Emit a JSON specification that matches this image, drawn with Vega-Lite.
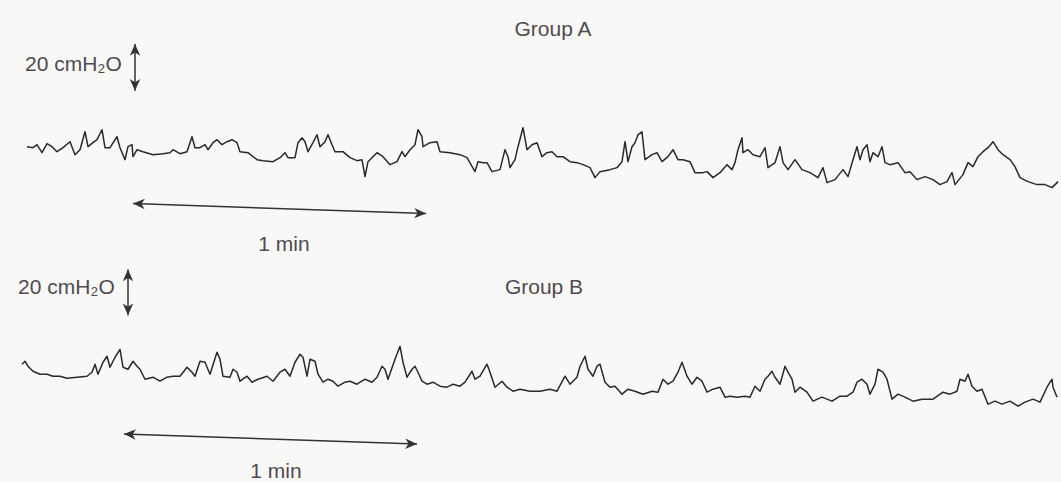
{
  "$schema": "https://vega.github.io/schema/vega-lite/v6.json",
  "width": 1061,
  "height": 482,
  "autosize": {"type": "fit", "contains": "padding"},
  "padding": 0,
  "background": "#f8f8f7",
  "config": {"view": {"stroke": null}},
  "datasets": {
    "traces": [
      {"g":"A","t":27,"p":147},{"g":"A","t":33,"p":148},{"g":"A","t":37,"p":145},{"g":"A","t":42,"p":153},{"g":"A","t":47,"p":144},{"g":"A","t":52,"p":147},{"g":"A","t":57,"p":152},{"g":"A","t":63,"p":148},{"g":"A","t":70,"p":142},{"g":"A","t":75,"p":155},{"g":"A","t":80,"p":150},{"g":"A","t":85,"p":132},{"g":"A","t":88,"p":147},{"g":"A","t":93,"p":143},{"g":"A","t":97,"p":140},{"g":"A","t":102,"p":130},{"g":"A","t":105,"p":148},{"g":"A","t":110,"p":148},{"g":"A","t":117,"p":137},{"g":"A","t":120,"p":148},{"g":"A","t":125,"p":160},{"g":"A","t":128,"p":147},{"g":"A","t":132,"p":145},{"g":"A","t":133,"p":157},{"g":"A","t":137,"p":150},{"g":"A","t":143,"p":152},{"g":"A","t":153,"p":155},{"g":"A","t":163,"p":154},{"g":"A","t":170,"p":153},{"g":"A","t":173,"p":150},{"g":"A","t":180,"p":154},{"g":"A","t":187,"p":152},{"g":"A","t":192,"p":137},{"g":"A","t":195,"p":148},{"g":"A","t":200,"p":148},{"g":"A","t":205,"p":145},{"g":"A","t":208,"p":150},{"g":"A","t":213,"p":143},{"g":"A","t":217,"p":140},{"g":"A","t":222,"p":145},{"g":"A","t":227,"p":142},{"g":"A","t":232,"p":140},{"g":"A","t":237,"p":143},{"g":"A","t":240,"p":152},{"g":"A","t":248,"p":153},{"g":"A","t":257,"p":160},{"g":"A","t":263,"p":161},{"g":"A","t":273,"p":162},{"g":"A","t":280,"p":158},{"g":"A","t":285,"p":153},{"g":"A","t":288,"p":158},{"g":"A","t":295,"p":158},{"g":"A","t":298,"p":143},{"g":"A","t":302,"p":138},{"g":"A","t":305,"p":142},{"g":"A","t":308,"p":152},{"g":"A","t":313,"p":143},{"g":"A","t":317,"p":135},{"g":"A","t":320,"p":147},{"g":"A","t":325,"p":142},{"g":"A","t":328,"p":135},{"g":"A","t":332,"p":145},{"g":"A","t":335,"p":152},{"g":"A","t":343,"p":152},{"g":"A","t":350,"p":158},{"g":"A","t":357,"p":161},{"g":"A","t":362,"p":160},{"g":"A","t":365,"p":177},{"g":"A","t":368,"p":162},{"g":"A","t":373,"p":157},{"g":"A","t":377,"p":153},{"g":"A","t":383,"p":157},{"g":"A","t":390,"p":165},{"g":"A","t":397,"p":162},{"g":"A","t":402,"p":152},{"g":"A","t":405,"p":157},{"g":"A","t":410,"p":150},{"g":"A","t":415,"p":145},{"g":"A","t":418,"p":130},{"g":"A","t":422,"p":137},{"g":"A","t":423,"p":147},{"g":"A","t":430,"p":143},{"g":"A","t":437,"p":142},{"g":"A","t":440,"p":152},{"g":"A","t":450,"p":153},{"g":"A","t":460,"p":155},{"g":"A","t":467,"p":158},{"g":"A","t":475,"p":172},{"g":"A","t":478,"p":162},{"g":"A","t":483,"p":163},{"g":"A","t":487,"p":163},{"g":"A","t":492,"p":172},{"g":"A","t":500,"p":170},{"g":"A","t":505,"p":150},{"g":"A","t":508,"p":157},{"g":"A","t":510,"p":168},{"g":"A","t":515,"p":160},{"g":"A","t":518,"p":147},{"g":"A","t":523,"p":128},{"g":"A","t":527,"p":150},{"g":"A","t":532,"p":145},{"g":"A","t":537,"p":143},{"g":"A","t":542,"p":157},{"g":"A","t":547,"p":153},{"g":"A","t":552,"p":152},{"g":"A","t":557,"p":157},{"g":"A","t":563,"p":157},{"g":"A","t":570,"p":162},{"g":"A","t":577,"p":163},{"g":"A","t":583,"p":165},{"g":"A","t":590,"p":168},{"g":"A","t":595,"p":178},{"g":"A","t":600,"p":172},{"g":"A","t":610,"p":170},{"g":"A","t":617,"p":168},{"g":"A","t":622,"p":162},{"g":"A","t":625,"p":142},{"g":"A","t":628,"p":162},{"g":"A","t":632,"p":147},{"g":"A","t":635,"p":143},{"g":"A","t":638,"p":135},{"g":"A","t":642,"p":132},{"g":"A","t":645,"p":160},{"g":"A","t":652,"p":155},{"g":"A","t":657,"p":153},{"g":"A","t":662,"p":162},{"g":"A","t":668,"p":157},{"g":"A","t":673,"p":150},{"g":"A","t":678,"p":160},{"g":"A","t":683,"p":160},{"g":"A","t":690,"p":162},{"g":"A","t":695,"p":173},{"g":"A","t":703,"p":173},{"g":"A","t":707,"p":172},{"g":"A","t":713,"p":178},{"g":"A","t":720,"p":173},{"g":"A","t":727,"p":165},{"g":"A","t":732,"p":170},{"g":"A","t":735,"p":163},{"g":"A","t":738,"p":150},{"g":"A","t":742,"p":138},{"g":"A","t":743,"p":153},{"g":"A","t":748,"p":150},{"g":"A","t":753,"p":155},{"g":"A","t":760,"p":157},{"g":"A","t":765,"p":148},{"g":"A","t":768,"p":168},{"g":"A","t":775,"p":163},{"g":"A","t":780,"p":147},{"g":"A","t":783,"p":163},{"g":"A","t":788,"p":170},{"g":"A","t":795,"p":160},{"g":"A","t":802,"p":170},{"g":"A","t":810,"p":173},{"g":"A","t":818,"p":178},{"g":"A","t":823,"p":168},{"g":"A","t":827,"p":183},{"g":"A","t":835,"p":180},{"g":"A","t":843,"p":170},{"g":"A","t":848,"p":177},{"g":"A","t":853,"p":160},{"g":"A","t":857,"p":147},{"g":"A","t":860,"p":160},{"g":"A","t":863,"p":150},{"g":"A","t":867,"p":145},{"g":"A","t":870,"p":162},{"g":"A","t":873,"p":153},{"g":"A","t":878,"p":157},{"g":"A","t":882,"p":147},{"g":"A","t":885,"p":163},{"g":"A","t":890,"p":165},{"g":"A","t":898,"p":163},{"g":"A","t":905,"p":173},{"g":"A","t":910,"p":172},{"g":"A","t":917,"p":180},{"g":"A","t":925,"p":177},{"g":"A","t":933,"p":180},{"g":"A","t":940,"p":185},{"g":"A","t":947,"p":182},{"g":"A","t":952,"p":173},{"g":"A","t":955,"p":185},{"g":"A","t":963,"p":175},{"g":"A","t":968,"p":163},{"g":"A","t":973,"p":167},{"g":"A","t":978,"p":157},{"g":"A","t":983,"p":152},{"g":"A","t":988,"p":148},{"g":"A","t":993,"p":142},{"g":"A","t":998,"p":150},{"g":"A","t":1003,"p":155},{"g":"A","t":1010,"p":160},{"g":"A","t":1015,"p":167},{"g":"A","t":1020,"p":178},{"g":"A","t":1028,"p":182},{"g":"A","t":1037,"p":185},{"g":"A","t":1045,"p":185},{"g":"A","t":1052,"p":188},{"g":"A","t":1058,"p":182},
      {"g":"B","t":22,"p":365},{"g":"B","t":25,"p":362},{"g":"B","t":28,"p":367},{"g":"B","t":33,"p":372},{"g":"B","t":40,"p":375},{"g":"B","t":47,"p":375},{"g":"B","t":53,"p":377},{"g":"B","t":60,"p":377},{"g":"B","t":67,"p":379},{"g":"B","t":77,"p":378},{"g":"B","t":87,"p":377},{"g":"B","t":92,"p":373},{"g":"B","t":95,"p":365},{"g":"B","t":98,"p":375},{"g":"B","t":103,"p":363},{"g":"B","t":107,"p":357},{"g":"B","t":110,"p":368},{"g":"B","t":115,"p":358},{"g":"B","t":120,"p":350},{"g":"B","t":123,"p":368},{"g":"B","t":128,"p":370},{"g":"B","t":133,"p":362},{"g":"B","t":137,"p":367},{"g":"B","t":140,"p":370},{"g":"B","t":145,"p":380},{"g":"B","t":153,"p":378},{"g":"B","t":160,"p":382},{"g":"B","t":167,"p":378},{"g":"B","t":173,"p":377},{"g":"B","t":180,"p":377},{"g":"B","t":187,"p":368},{"g":"B","t":192,"p":373},{"g":"B","t":195,"p":377},{"g":"B","t":200,"p":362},{"g":"B","t":205,"p":363},{"g":"B","t":210,"p":375},{"g":"B","t":217,"p":353},{"g":"B","t":220,"p":360},{"g":"B","t":223,"p":377},{"g":"B","t":230,"p":378},{"g":"B","t":233,"p":370},{"g":"B","t":237,"p":373},{"g":"B","t":240,"p":382},{"g":"B","t":247,"p":377},{"g":"B","t":252,"p":383},{"g":"B","t":258,"p":380},{"g":"B","t":267,"p":377},{"g":"B","t":273,"p":382},{"g":"B","t":280,"p":373},{"g":"B","t":285,"p":370},{"g":"B","t":290,"p":377},{"g":"B","t":295,"p":363},{"g":"B","t":300,"p":355},{"g":"B","t":303,"p":358},{"g":"B","t":307,"p":377},{"g":"B","t":310,"p":360},{"g":"B","t":315,"p":362},{"g":"B","t":318,"p":375},{"g":"B","t":323,"p":383},{"g":"B","t":328,"p":380},{"g":"B","t":333,"p":382},{"g":"B","t":338,"p":387},{"g":"B","t":345,"p":383},{"g":"B","t":350,"p":382},{"g":"B","t":357,"p":385},{"g":"B","t":365,"p":380},{"g":"B","t":372,"p":383},{"g":"B","t":377,"p":378},{"g":"B","t":382,"p":367},{"g":"B","t":385,"p":370},{"g":"B","t":388,"p":380},{"g":"B","t":395,"p":360},{"g":"B","t":400,"p":347},{"g":"B","t":403,"p":363},{"g":"B","t":407,"p":378},{"g":"B","t":412,"p":370},{"g":"B","t":415,"p":367},{"g":"B","t":418,"p":373},{"g":"B","t":422,"p":382},{"g":"B","t":427,"p":385},{"g":"B","t":433,"p":383},{"g":"B","t":440,"p":387},{"g":"B","t":447,"p":388},{"g":"B","t":453,"p":385},{"g":"B","t":460,"p":387},{"g":"B","t":465,"p":383},{"g":"B","t":472,"p":372},{"g":"B","t":475,"p":380},{"g":"B","t":480,"p":377},{"g":"B","t":487,"p":365},{"g":"B","t":490,"p":373},{"g":"B","t":495,"p":388},{"g":"B","t":502,"p":382},{"g":"B","t":507,"p":388},{"g":"B","t":513,"p":392},{"g":"B","t":520,"p":390},{"g":"B","t":530,"p":392},{"g":"B","t":540,"p":392},{"g":"B","t":550,"p":390},{"g":"B","t":557,"p":392},{"g":"B","t":565,"p":377},{"g":"B","t":570,"p":385},{"g":"B","t":577,"p":378},{"g":"B","t":580,"p":367},{"g":"B","t":585,"p":357},{"g":"B","t":588,"p":370},{"g":"B","t":593,"p":377},{"g":"B","t":597,"p":367},{"g":"B","t":600,"p":365},{"g":"B","t":605,"p":383},{"g":"B","t":610,"p":388},{"g":"B","t":615,"p":387},{"g":"B","t":622,"p":395},{"g":"B","t":628,"p":390},{"g":"B","t":635,"p":392},{"g":"B","t":643,"p":395},{"g":"B","t":652,"p":392},{"g":"B","t":658,"p":393},{"g":"B","t":663,"p":380},{"g":"B","t":668,"p":385},{"g":"B","t":673,"p":382},{"g":"B","t":678,"p":373},{"g":"B","t":682,"p":363},{"g":"B","t":687,"p":377},{"g":"B","t":692,"p":385},{"g":"B","t":697,"p":378},{"g":"B","t":702,"p":382},{"g":"B","t":707,"p":393},{"g":"B","t":713,"p":390},{"g":"B","t":720,"p":388},{"g":"B","t":725,"p":398},{"g":"B","t":730,"p":397},{"g":"B","t":737,"p":398},{"g":"B","t":745,"p":397},{"g":"B","t":750,"p":398},{"g":"B","t":755,"p":387},{"g":"B","t":760,"p":392},{"g":"B","t":765,"p":380},{"g":"B","t":768,"p":377},{"g":"B","t":772,"p":372},{"g":"B","t":775,"p":378},{"g":"B","t":780,"p":385},{"g":"B","t":785,"p":367},{"g":"B","t":788,"p":373},{"g":"B","t":792,"p":380},{"g":"B","t":795,"p":393},{"g":"B","t":800,"p":388},{"g":"B","t":807,"p":393},{"g":"B","t":813,"p":402},{"g":"B","t":822,"p":398},{"g":"B","t":832,"p":402},{"g":"B","t":840,"p":397},{"g":"B","t":847,"p":397},{"g":"B","t":853,"p":393},{"g":"B","t":857,"p":383},{"g":"B","t":862,"p":380},{"g":"B","t":867,"p":385},{"g":"B","t":870,"p":395},{"g":"B","t":875,"p":385},{"g":"B","t":878,"p":370},{"g":"B","t":883,"p":373},{"g":"B","t":887,"p":380},{"g":"B","t":892,"p":400},{"g":"B","t":898,"p":395},{"g":"B","t":905,"p":398},{"g":"B","t":913,"p":402},{"g":"B","t":922,"p":400},{"g":"B","t":933,"p":400},{"g":"B","t":943,"p":393},{"g":"B","t":950,"p":395},{"g":"B","t":957,"p":392},{"g":"B","t":960,"p":380},{"g":"B","t":965,"p":382},{"g":"B","t":968,"p":375},{"g":"B","t":972,"p":387},{"g":"B","t":977,"p":392},{"g":"B","t":982,"p":390},{"g":"B","t":988,"p":405},{"g":"B","t":995,"p":402},{"g":"B","t":1002,"p":405},{"g":"B","t":1010,"p":402},{"g":"B","t":1018,"p":407},{"g":"B","t":1025,"p":403},{"g":"B","t":1033,"p":400},{"g":"B","t":1040,"p":403},{"g":"B","t":1047,"p":388},{"g":"B","t":1052,"p":380},{"g":"B","t":1053,"p":388},{"g":"B","t":1057,"p":398}
    ],
    "bars": [
      {"bar":"A pressure","t":135,"p":44,"t2":135,"p2":91},
      {"bar":"A time","t":133,"p":204,"t2":426,"p2":214},
      {"bar":"B pressure","t":128,"p":270,"t2":128,"p2":316},
      {"bar":"B time","t":124,"p":435,"t2":417,"p2":445}
    ],
    "heads": [
      {"t":135,"p":44,"dir":0},{"t":135,"p":91,"dir":180},
      {"t":133,"p":204,"dir":272},{"t":426,"p":214,"dir":92},
      {"t":128,"p":270,"dir":0},{"t":128,"p":316,"dir":180},
      {"t":124,"p":435,"dir":272},{"t":417,"p":445,"dir":92}
    ],
    "labels": [
      {"text":"Group A","t":553,"p":36,"pos":"c"},
      {"text":"Group B","t":544,"p":295,"pos":"c"},
      {"text":"1 min","t":284,"p":252,"pos":"c"},
      {"text":"1 min","t":276,"p":479,"pos":"c"},
      {"text":"20 cmH₂O","t":25,"p":71,"pos":"l"},
      {"text":"20 cmH₂O","t":18,"p":295,"pos":"l"}
    ]
  },
  "layer": [
    {
      "data": {"name": "traces"},
      "mark": {"type": "line", "color": "#2e272b", "strokeWidth": 1.5, "strokeJoin": "round"},
      "encoding": {
        "x": {"field": "t", "type": "quantitative", "scale": {"domain": [0, 1061], "nice": false, "zero": false}, "axis": null},
        "y": {"field": "p", "type": "quantitative", "scale": {"domain": [0, 482], "nice": false, "zero": false, "reverse": true}, "axis": null},
        "detail": {"field": "g", "type": "nominal"}
      }
    },
    {
      "data": {"name": "bars"},
      "mark": {"type": "rule", "color": "#333333", "strokeWidth": 1.5},
      "encoding": {
        "x": {"field": "t", "type": "quantitative"},
        "y": {"field": "p", "type": "quantitative"},
        "x2": {"field": "t2"},
        "y2": {"field": "p2"}
      }
    },
    {
      "data": {"name": "heads"},
      "mark": {"type": "point", "shape": "M0,0L0.8,1.8L0,1.3L-0.8,1.8Z", "filled": true, "color": "#333333", "opacity": 1, "size": 170},
      "encoding": {
        "x": {"field": "t", "type": "quantitative"},
        "y": {"field": "p", "type": "quantitative"},
        "angle": {"field": "dir", "type": "quantitative", "scale": null}
      }
    },
    {
      "data": {"name": "labels"},
      "transform": [{"filter": "datum.pos === 'c'"}],
      "mark": {"type": "text", "align": "center", "baseline": "alphabetic", "font": "Liberation Sans", "fontSize": 21, "color": "#514a50"},
      "encoding": {
        "x": {"field": "t", "type": "quantitative"},
        "y": {"field": "p", "type": "quantitative"},
        "text": {"field": "text"}
      }
    },
    {
      "data": {"name": "labels"},
      "transform": [{"filter": "datum.pos === 'l'"}],
      "mark": {"type": "text", "align": "left", "baseline": "alphabetic", "font": "Liberation Sans", "fontSize": 21, "color": "#514a50"},
      "encoding": {
        "x": {"field": "t", "type": "quantitative"},
        "y": {"field": "p", "type": "quantitative"},
        "text": {"field": "text"}
      }
    }
  ]
}
